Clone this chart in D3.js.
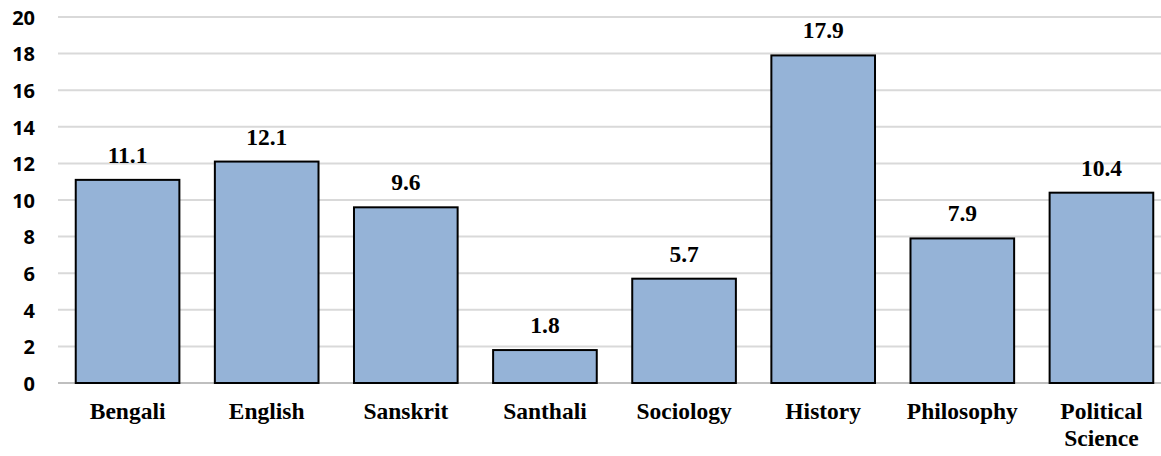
<!DOCTYPE html>
<html>
<head>
<meta charset="utf-8">
<script src="https://cdn.jsdelivr.net/npm/d3@7"></script>
<style>
   body { margin: 0; background: #fff; }
   #chartDiv { width: 1161px; height: 456px; overflow: hidden; }
</style>
</head>
<body>
<div id="chartDiv"></div>
<script>
//----------------------------------------------------------------------------------------------------
var categories = ["Bengali", "English", "Sanskrit", "Santhali", "Sociology", "History",
                  "Philosophy", "Political Science"];
var values     = [11.1, 12.1, 9.6, 1.8, 5.7, 17.9, 7.9, 10.4];
var valueLabels = ["11.1", "12.1", "9.6", "1.8", "5.7", "17.9", "7.9", "10.4"];
var yTicks     = [0, 2, 4, 6, 8, 10, 12, 14, 16, 18, 20];
//----------------------------------------------------------------------------------------------------
function drawChart()
{
   var width = 1161;
   var height = 456;
   var left = 58, right = 1171;   // plot area runs a little past the picture's right edge
   var top = 17, bottom = 383;

   var svg = d3.select("#chartDiv")
      .append("svg")
      .attr("width", width)
      .attr("height", height);

   var xScale = d3.scaleBand()
      .domain(categories)
      .range([left, right])
      .paddingInner(0.255)
      .paddingOuter(0.1275);

   var yScale = d3.scaleLinear()
      .domain([0, 20])
      .range([bottom, top]);

      // horizontal gridlines
   svg.append("g")
      .selectAll("line")
      .data(yTicks)
      .enter()
      .append("line")
      .attr("x1", left)
      .attr("x2", width)
      .attr("y1", function(d){ return yScale(d); })
      .attr("y2", function(d){ return yScale(d); })
      .attr("stroke", function(d){ return d == 0 ? "#bfbfbf" : "#d9d9d9"; })
      .attr("stroke-width", 2);

      // y axis labels, no domain line
   var yAxis = d3.axisLeft(yScale)
      .tickValues(yTicks)
      .tickSize(0)
      .tickPadding(0);

   var yg = svg.append("g")
      .attr("transform", "translate(35,0)")
      .call(yAxis);
   yg.select(".domain").remove();
   yg.selectAll("text")
      .attr("dy", "0.36em")
      .style("font-family", "'Open Sans', Lato, sans-serif")
      .style("font-weight", "bold")
      .style("font-size", "20px")
      .style("fill", "#000");

   var bars = categories.map(function(c, i){ return {cat: c, val: values[i], label: valueLabels[i]}; });

   svg.append("g")
      .selectAll("rect")
      .data(bars)
      .enter()
      .append("rect")
      .attr("x", function(d){ return xScale(d.cat); })
      .attr("y", function(d){ return yScale(d.val); })
      .attr("width", xScale.bandwidth())
      .attr("height", function(d){ return yScale(0) - yScale(d.val); })
      .attr("fill", "#95b3d7")
      .attr("stroke", "#000")
      .attr("stroke-width", 2);

      // value labels above bars
   svg.append("g")
      .selectAll("text")
      .data(bars)
      .enter()
      .append("text")
      .attr("x", function(d){ return xScale(d.cat) + xScale.bandwidth() / 2; })
      .attr("y", function(d){ return yScale(d.val) - 17; })
      .attr("text-anchor", "middle")
      .style("font-family", "'Liberation Serif', 'Times New Roman', serif")
      .style("font-weight", "bold")
      .style("font-size", "23.5px")
      .text(function(d){ return d.label; });

      // category labels, wrapped on the space for two-word names
   var xAxis = d3.axisBottom(xScale)
      .tickSize(0)
      .tickFormat("");

   var xg = svg.append("g")
      .attr("transform", "translate(0," + bottom + ")")
      .call(xAxis);
   xg.select(".domain").remove();

   xg.selectAll(".tick")
      .each(function(d){
         var words = d.split(" ");
         var t = d3.select(this).append("text")
            .attr("text-anchor", "middle")
            .attr("fill", "#000")
            .style("font-family", "'Liberation Serif', 'Times New Roman', serif")
            .style("font-weight", "bold")
            .style("font-size", "23.5px");
         words.forEach(function(w, k){
            t.append("tspan")
               .attr("x", 0)
               .attr("y", 36 + k * 27)
               .text(w);
            });
         });

} // drawChart
//----------------------------------------------------------------------------------------------------
drawChart();
</script>
</body>
</html>
